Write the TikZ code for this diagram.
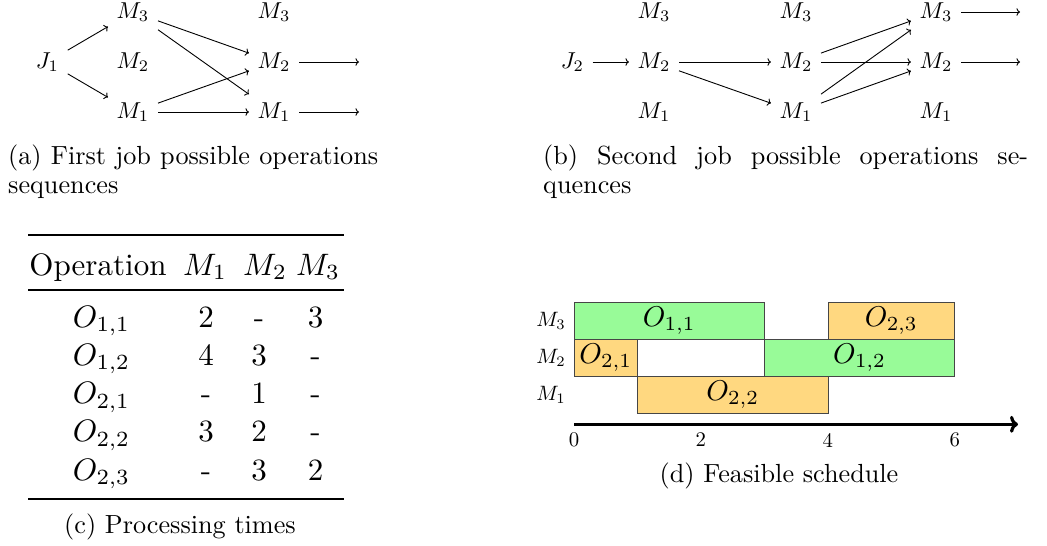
\documentclass[tikz,border=0pt]{standalone}
\usepackage{graphicx}
\usetikzlibrary{arrows.meta}
\definecolor{gantgreen}{RGB}{152,251,152}
\definecolor{gantorange}{RGB}{255,216,128}
\definecolor{gantedge}{RGB}{70,70,70}
\newcommand{\mm}[1]{\scalebox{2.3}{$#1$}}
\newcommand{\cp}[1]{\scalebox{2.62}{#1}}
\newcommand{\tb}[1]{\scalebox{3.1}{#1}}
\newcommand{\go}[1]{\scalebox{2.86}{$#1$}}
\newcommand{\gl}[1]{\scalebox{2.08}{#1}}
\tikzset{
  mnode/.style={inner sep=8.5pt, font=\fontsize{10}{12}\selectfont},
  flow/.style={->, line width=0.9pt},
  captxt/.style={inner sep=0pt, font=\fontsize{10}{10.9}\selectfont},
  tabtxt/.style={inner sep=0pt, anchor=base, font=\fontsize{10}{12}\selectfont},
  gbox/.style={draw=gantedge, line width=0.8pt, inner sep=0pt, minimum height=37pt, font=\fontsize{10}{12}\selectfont},
  glab/.style={inner sep=0pt, font=\fontsize{10}{12}\selectfont},
}
\begin{document}
\begin{tikzpicture}[x=1pt,y=-1pt]
\useasboundingbox (0,0) rectangle (1047,546);
% ---------- (a) ----------
\node[mnode] (aJ)  at (47.5,62) {\mm{J_1}};
\node[mnode] (a13) at (133,12)  {\mm{M_3}};
\node[mnode] (a12) at (133,62)  {\mm{M_2}};
\node[mnode] (a11) at (133,112) {\mm{M_1}};
\node[mnode] (a23) at (274,12)  {\mm{M_3}};
\node[mnode] (a22) at (274,62)  {\mm{M_2}};
\node[mnode] (a21) at (274,112) {\mm{M_1}};
\coordinate (a2o) at (359,62);
\coordinate (a1o) at (359,112);
\draw[flow] (aJ) -- (a13);
\draw[flow] (aJ) -- (a11);
\draw[flow] (a13) -- (a22);
\draw[flow] (a13) -- (a21);
\draw[flow] (a11) -- (a22);
\draw[flow] (a11) -- (a21);
\draw[flow] (a22) -- (a2o);
\draw[flow] (a21) -- (a1o);
\node[captxt, anchor=base west] (capa) at (8,164.5)
  {\cp{\begin{tabular}[t]{@{}l@{}}\makebox[141.2pt][s]{(a) First job possible operations}\\sequences\end{tabular}}};
% ---------- (b) ----------
\node[mnode] (bJ)  at (572.5,62) {\mm{J_2}};
\node[mnode] (b13) at (654,12)  {\mm{M_3}};
\node[mnode] (b12) at (654,62)  {\mm{M_2}};
\node[mnode] (b11) at (654,112) {\mm{M_1}};
\node[mnode] (b23) at (796,12)  {\mm{M_3}};
\node[mnode] (b22) at (796,62)  {\mm{M_2}};
\node[mnode] (b21) at (796,112) {\mm{M_1}};
\node[mnode] (b33) at (936,12)  {\mm{M_3}};
\node[mnode] (b32) at (936,62)  {\mm{M_2}};
\node[mnode] (b31) at (936,112) {\mm{M_1}};
\coordinate (b3o) at (1020,12);
\coordinate (b2o) at (1020,62);
\draw[flow] (bJ) -- (b12);
\draw[flow] (b12) -- (b22);
\draw[flow] (b12) -- (b21);
\draw[flow] (b22) -- (b33);
\draw[flow] (b22) -- (b32);
\draw[flow] (b21) -- (b33);
\draw[flow] (b21) -- (b32);
\draw[flow] (b33) -- (b3o);
\draw[flow] (b32) -- (b2o);
\node[captxt, anchor=base west] (capb) at (543,164.5)
  {\cp{\begin{tabular}[t]{@{}l@{}}\makebox[185.1pt][s]{(b) Second job possible operations se-}\\quences\end{tabular}}};
% ---------- (c) table ----------
\draw[line width=2.7pt] (28,235) -- (344,235);
\draw[line width=1.6pt] (28,290) -- (344,290);
\draw[line width=2.7pt] (28,499) -- (344,499);
\node[tabtxt] (hop) at (98,275) {\tb{Operation}};
\node[tabtxt] (hm1) at (205,275) {\tb{$M_1$}};
\node[tabtxt] (hm2) at (265,275) {\tb{$M_2$}};
\node[tabtxt] (hm3) at (318,275) {\tb{$M_3$}};
\node[tabtxt] (r1) at (101.5,327)   {\tb{$O_{1,1}$}};
\node[tabtxt] (r2) at (101.5,365.3) {\tb{$O_{1,2}$}};
\node[tabtxt] (r3) at (101.5,403.5) {\tb{$O_{2,1}$}};
\node[tabtxt] (r4) at (101.5,441.8) {\tb{$O_{2,2}$}};
\node[tabtxt] (r5) at (101.5,480)   {\tb{$O_{2,3}$}};
\node[tabtxt] (c11) at (206,327)   {\tb{2}};
\node[tabtxt] (c12) at (259,327)   {\tb{-}};
\node[tabtxt] (c13) at (315.5,327) {\tb{3}};
\node[tabtxt] (c21) at (206,365.3)   {\tb{4}};
\node[tabtxt] (c22) at (259,365.3)   {\tb{3}};
\node[tabtxt] (c23) at (315.5,365.3) {\tb{-}};
\node[tabtxt] (c31) at (206,403.5)   {\tb{-}};
\node[tabtxt] (c32) at (259,403.5)   {\tb{1}};
\node[tabtxt] (c33) at (315.5,403.5) {\tb{-}};
\node[tabtxt] (c41) at (206,441.8)   {\tb{3}};
\node[tabtxt] (c42) at (259,441.8)   {\tb{2}};
\node[tabtxt] (c43) at (315.5,441.8) {\tb{-}};
\node[tabtxt] (c51) at (206,480)   {\tb{-}};
\node[tabtxt] (c52) at (259,480)   {\tb{3}};
\node[tabtxt] (c53) at (315.5,480) {\tb{2}};
\node[captxt, anchor=base] (capc) at (180,533) {\cp{(c) Processing times}};
% ---------- (d) gantt ----------
\node[gbox, fill=gantgreen,  minimum width=190.4pt] (o11) at (669.2,320.5) {\go{O_{1,1}}};
\node[gbox, fill=gantorange, minimum width=126.9pt] (o23) at (891.35,320.5) {\go{O_{2,3}}};
\node[gbox, fill=gantorange, minimum width=63.5pt]  (o21) at (605.75,357.5) {\go{O_{2,1}}};
\node[gbox, fill=gantgreen,  minimum width=190.4pt] (o12) at (859.6,357.5) {\go{O_{1,2}}};
\node[gbox, fill=gantorange, minimum width=190.4pt] (o22) at (732.7,394.5) {\go{O_{2,2}}};
\node[glab] (l3) at (551,320.5) {\gl{$M_3$}};
\node[glab] (l2) at (551,357.5) {\gl{$M_2$}};
\node[glab] (l1) at (551,394.5) {\gl{$M_1$}};
\coordinate (ax0) at (574,424.3);
\coordinate (ax1) at (1018,424.3);
\draw[line width=3.2pt, -{To[length=8pt,width=17pt,line width=3.2pt]}] (ax0) -- (ax1);
\node[glab] (t0) at (574,440)   {\gl{0}};
\node[glab] (t2) at (700.9,440) {\gl{2}};
\node[glab] (t4) at (827.9,440) {\gl{4}};
\node[glab] (t6) at (954.8,440) {\gl{6}};
\node[captxt, anchor=base] (capd) at (779,482.5) {\cp{(d) Feasible schedule}};
\end{tikzpicture}
\end{document}
